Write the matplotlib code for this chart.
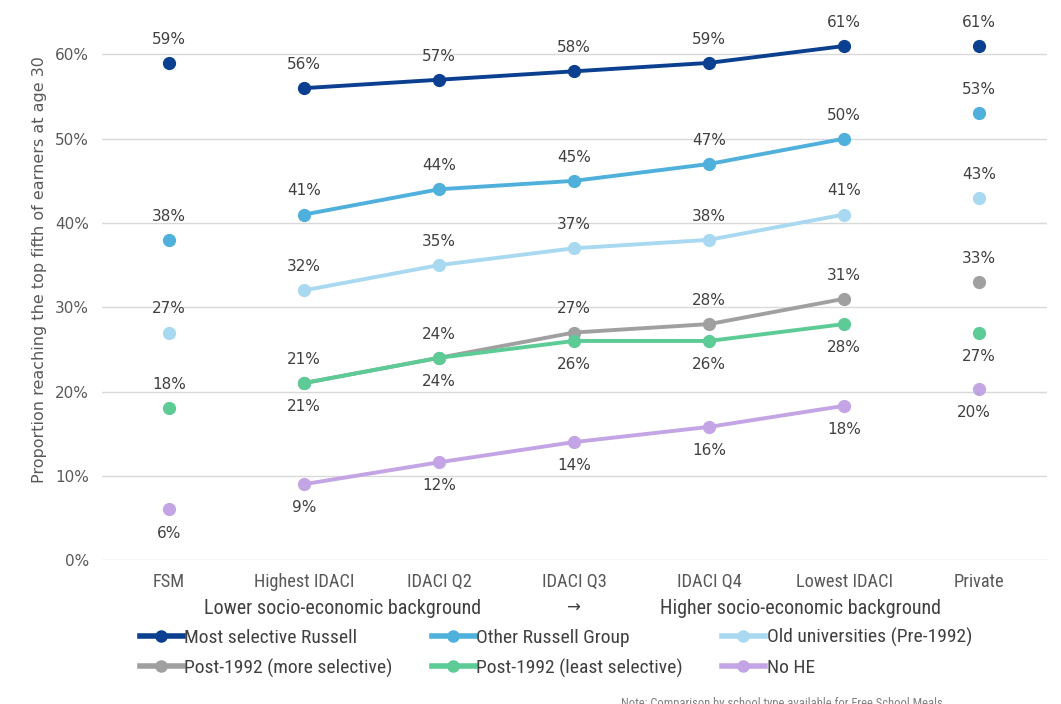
import matplotlib.pyplot as plt
import numpy as np

# Categories along the x axis
categories = ['FSM', 'Highest IDACI', 'IDACI Q2', 'IDACI Q3', 'IDACI Q4', 'Lowest IDACI', 'Private']

# Share reaching top fifth of earners at age 30 (%), None = not shown
most_selective = [59, 56, 57, 58, 59, 61, 61]
other_russell = [38, 41, 44, 45, 47, 50, 53]
old_unis = [27, 32, 35, 37, 38, 41, 43]
post92_more = [None, 21, 24, 27, 28, 31, 33]
post92_least = [18, 21, 24, 26, 26, 28, 27]
no_he = [6, 9, 11.6, 14, 15.8, 18.3, 20.3]

series_names = ['Most selective Russell', 'Other Russell Group', 'Old universities (Pre-1992)',
                'Post-1992 (more selective)', 'Post-1992 (least selective)', 'No HE']
series_vals = [most_selective, other_russell, old_unis, post92_more, post92_least, no_he]
colors = ['#0b3f8f', '#4fb0db', '#a9d9f0', '#a0a0a0', '#5ccb95', '#c3a5e5']

# label placement: +1 above, -1 below (per point)
label_side = [
    [1] * 7,
    [1] * 7,
    [1] * 7,
    [1] * 7,
    [1, -1, -1, -1, -1, -1, -1],
    [-1] * 7,
]

NARROW = ['Roboto Condensed', 'Fira Sans Condensed', 'IBM Plex Sans Condensed',
          'PT Sans Narrow', 'Archivo Narrow', 'Encode Sans Condensed', 'DejaVu Sans']
TXT = '#404040'

fig = plt.figure(figsize=(10.61, 7.04), dpi=100)
ax = fig.add_axes([0.0957, 0.2045, 0.8907, 0.778])

x = np.arange(len(categories))
for name, vals, col, sides in zip(series_names, series_vals, colors, label_side):
    # connected middle part
    mid = [i for i in range(1, 6) if vals[i] is not None]
    ax.plot(x[mid], [vals[i] for i in mid], '-o', color=col, linewidth=2.8,
            markersize=8.5, zorder=3)
    # standalone end points
    for i in (0, 6):
        if vals[i] is not None:
            ax.plot(x[i], vals[i], 'o', color=col, markersize=8.5, zorder=3)
    for i, v in enumerate(vals):
        if v is None:
            continue
        s = sides[i]
        if name == 'No HE' and i == 6:
            ax.annotate(f'{v:.0f}%', (x[i], v), textcoords='offset points',
                        xytext=(-4, -17), ha='center', va='center', fontsize=11,
                        color=TXT, arrowprops=dict(arrowstyle='-', color='#999999',
                                                   lw=0.8, shrinkA=6, shrinkB=3))
            continue
        ax.annotate(f'{v:.0f}%', (x[i], v), textcoords='offset points',
                    xytext=(0, 17 * s), ha='center', va='center', fontsize=11,
                    color=TXT)

ax.set_xlim(-0.5, 6.5)
ax.set_ylim(0, 65)
ax.set_yticks(np.arange(0, 61, 10))
ax.set_yticklabels([f'{t}%' for t in range(0, 61, 10)], fontsize=11, color='#595959')
ax.set_xticks(x)
ax.set_xticklabels(categories, fontsize=13.2, color='#595959', family=NARROW)
ax.tick_params(length=0, axis='both')
ax.tick_params(axis='x', pad=9)
ax.tick_params(axis='y', pad=9)
ax.grid(axis='y', color='#d9d9d9', linewidth=1)
ax.set_axisbelow(True)
for sp in ax.spines.values():
    sp.set_visible(False)

ax.set_ylabel('Proportion reaching the top fifth of earners at age 30', fontsize=11.5,
              color='#595959')
ax.yaxis.set_label_coords(-0.058, 0.53)

# socio-economic direction line under the ticks
fig.text(343 / 1061, 1 - 608 / 704, 'Lower socio-economic background', ha='center',
         va='center', fontsize=14.5, color='#404040', family=NARROW)
fig.text(573 / 1061, 1 - 608 / 704, '→', ha='center', va='center', fontsize=12,
         color='#404040')
fig.text(800 / 1061, 1 - 608 / 704, 'Higher socio-economic background', ha='center',
         va='center', fontsize=14.5, color='#404040', family=NARROW)

# legend
handles = [plt.Line2D([], [], color=c, linewidth=4, marker='o', markersize=8)
           for c in colors]
order = [0, 3, 1, 4, 2, 5]
leg = fig.legend([handles[i] for i in order], [series_names[i] for i in order],
                 ncol=3, loc='upper left', bbox_to_anchor=(132 / 1061, 1 - 620 / 704),
                 frameon=False, handlelength=2.2, handletextpad=0.1,
                 columnspacing=2.0, labelspacing=0.6, borderaxespad=0,
                 prop={'family': NARROW, 'size': 14})
for t in leg.get_texts():
    t.set_color('#404040')

# cut-off note at bottom edge
fig.text(0.585, 0.0, 'Note: Comparison by school type available for Free School Meals',
         ha='left', va='center', fontsize=9, color='#808080', family=NARROW)

plt.savefig('out.png', dpi=100)
